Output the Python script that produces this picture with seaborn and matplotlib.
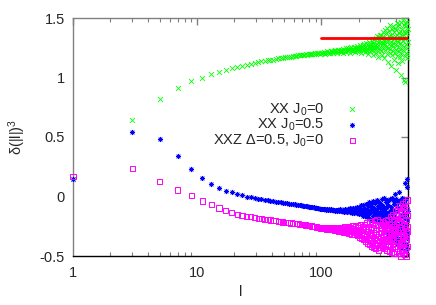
import numpy as np
import pandas as pd
import matplotlib
matplotlib.use("Agg")
import matplotlib.pyplot as plt
from matplotlib.markers import MarkerStyle
import seaborn as sns
from matplotlib.ticker import LogLocator, FixedLocator, NullFormatter

# ---- data ----
l_values = list(range(1, 500, 2))  # odd l = 1, 3, ..., 499

xx_j0 = [
    0.15, 0.64, 0.82, 0.91, 0.97, 1.00, 1.03, 1.05, 1.065, 1.08,
    1.09, 1.10, 1.105, 1.115, 1.12, 1.13, 1.135, 1.14, 1.145, 1.15,
    1.15, 1.155, 1.16, 1.16, 1.165, 1.17, 1.17, 1.175, 1.175, 1.18,
    1.18, 1.18, 1.185, 1.185, 1.19, 1.19, 1.19, 1.195, 1.19, 1.195,
    1.20, 1.195, 1.20, 1.20, 1.205, 1.20, 1.205, 1.21, 1.20, 1.205,
    1.21, 1.205, 1.215, 1.20, 1.21, 1.22, 1.21, 1.215, 1.205, 1.22,
    1.215, 1.225, 1.21, 1.22, 1.23, 1.215, 1.225, 1.21, 1.235, 1.22,
    1.225, 1.215, 1.235, 1.22, 1.24, 1.21, 1.23, 1.225, 1.245, 1.215,
    1.23, 1.25, 1.22, 1.235, 1.21, 1.245, 1.23, 1.255, 1.22, 1.24,
    1.225, 1.26, 1.23, 1.215, 1.25, 1.235, 1.265, 1.22, 1.245, 1.24,
    1.25, 1.22, 1.27, 1.235, 1.26, 1.21, 1.245, 1.275, 1.23, 1.255,
    1.24, 1.28, 1.215, 1.26, 1.235, 1.29, 1.25, 1.225, 1.27, 1.20,
    1.26, 1.30, 1.24, 1.27, 1.22, 1.285, 1.255, 1.31, 1.235, 1.27,
    1.19, 1.29, 1.26, 1.32, 1.23, 1.275, 1.25, 1.33, 1.21, 1.28,
    1.26, 1.35, 1.22, 1.30, 1.17, 1.34, 1.25, 1.29, 1.36, 1.24,
    1.30, 1.22, 1.36, 1.27, 1.33, 1.19, 1.29, 1.38, 1.25, 1.31,
    1.34, 1.16, 1.28, 1.40, 1.23, 1.32, 1.26, 1.37, 1.20, 1.30,
    1.42, 1.25, 1.31, 1.13, 1.35, 1.28, 1.39, 1.21, 1.33, 1.44,
    1.24, 1.30, 1.10, 1.36, 1.27, 1.41, 1.19, 1.34, 1.43, 1.22,
    1.29, 1.38, 1.15, 1.32, 1.25, 1.42, 1.21, 1.35, 1.06, 1.28,
    1.40, 1.23, 1.31, 1.46, 1.18, 1.36, 1.26, 1.43, 1.12, 1.30,
    1.37, 1.22, 1.34, 1.45, 1.17, 1.29, 1.39, 1.24, 1.02, 1.33,
    1.47, 1.20, 1.36, 1.27, 1.41, 1.14, 1.31, 1.48, 1.23, 1.35,
    0.98, 1.39, 1.26, 1.44, 1.18, 1.32, 1.46, 0.96, 1.37, 1.21,
    1.43, 1.28, 1.34, 1.16, 1.47, 1.25, 1.38, 1.20, 1.41, 1.30,
]

xx_j05 = [
    0.15, 0.545, 0.483, 0.341, 0.229, 0.157, 0.109, 0.073, 0.048, 0.034,
    0.02, 0.01, 0.0, -0.006, -0.012, -0.018, -0.022, -0.027, -0.031, -0.035,
    -0.04, -0.043, -0.046, -0.049, -0.052, -0.055, -0.057, -0.06, -0.062, -0.064,
    -0.067, -0.069, -0.071, -0.073, -0.075, -0.077, -0.079, -0.081, -0.083, -0.085,
    -0.087, -0.089, -0.091, -0.092, -0.094, -0.096, -0.098, -0.099, -0.101, -0.103,
    -0.104, -0.106, -0.108, -0.105, -0.11, -0.107, -0.112, -0.109, -0.113, -0.108,
    -0.115, -0.11, -0.117, -0.112, -0.118, -0.11, -0.12, -0.113, -0.116, -0.122,
    -0.109, -0.12, -0.114, -0.125, -0.11, -0.118, -0.127, -0.106, -0.121, -0.115,
    -0.13, -0.104, -0.124, -0.117, -0.133, -0.10, -0.126, -0.112, -0.136, -0.098,
    -0.128, -0.115, -0.14, -0.095, -0.122, -0.131, -0.09, -0.138, -0.11, -0.125,
    -0.085, -0.145, -0.118, -0.10, -0.15, -0.075, -0.13, -0.112, -0.16, -0.07,
    -0.135, -0.095, -0.168, -0.118, -0.06, -0.142, -0.105, -0.175, -0.08, -0.128,
    -0.15, -0.05, -0.185, -0.11, -0.135, -0.065, -0.195, -0.12, -0.09, -0.16,
    -0.04, -0.20, -0.13, -0.10, -0.17, -0.055, -0.21, -0.115, -0.145, -0.03,
    -0.19, -0.125, -0.08, -0.22, -0.10, -0.16, -0.045, -0.205, -0.135, -0.09,
    -0.23, -0.06, -0.175, -0.11, -0.25, -0.02, -0.15, -0.20, -0.08, -0.27,
    -0.12, -0.01, -0.215, -0.16, -0.29, -0.05, -0.185, -0.10, -0.24, -0.03,
    -0.14, -0.30, -0.07, -0.20, -0.17, -0.32, -0.03, -0.23, -0.12, -0.28,
    -0.02, -0.19, -0.34, -0.09, -0.25, -0.15, -0.01, -0.31, -0.21, -0.11,
    -0.36, -0.04, -0.26, -0.16, -0.06, -0.33, -0.22, 0.02, -0.38, -0.13,
    -0.28, -0.02, -0.19, -0.40, -0.08, -0.30, -0.05, -0.24, -0.35, -0.12,
    -0.42, -0.04, -0.27, 0.04, -0.20, -0.37, -0.10, -0.31, -0.03, -0.44,
    -0.16, -0.26, -0.06, -0.39, -0.01, -0.22, -0.33, -0.14, -0.41, -0.07,
    -0.29, -0.18, -0.05, -0.36, -0.09, -0.45, -0.24, 0.11, -0.32, -0.15,
    -0.40, -0.02, -0.27, 0.15, -0.35, -0.20, -0.43, 0.08, -0.30, -0.12,
]

xxz_d05 = [
    0.17, 0.232, 0.129, 0.054, 0.006, -0.037, -0.07, -0.097, -0.12, -0.137,
    -0.15, -0.158, -0.165, -0.171, -0.177, -0.182, -0.186, -0.19, -0.194, -0.198,
    -0.202, -0.205, -0.208, -0.211, -0.214, -0.216, -0.218, -0.22, -0.222, -0.224,
    -0.226, -0.228, -0.23, -0.232, -0.234, -0.236, -0.238, -0.24, -0.242, -0.244,
    -0.246, -0.248, -0.25, -0.252, -0.254, -0.256, -0.258, -0.26, -0.262, -0.265,
    -0.266, -0.27, -0.263, -0.272, -0.268, -0.275, -0.262, -0.278, -0.27, -0.265,
    -0.28, -0.272, -0.26, -0.284, -0.275, -0.268, -0.288, -0.262, -0.279, -0.292,
    -0.27, -0.258, -0.295, -0.281, -0.265, -0.30, -0.274, -0.255, -0.29, -0.305,
    -0.268, -0.285, -0.25, -0.31, -0.277, -0.295, -0.26, -0.315, -0.283, -0.248,
    -0.30, -0.27, -0.32, -0.288, -0.255, -0.31, -0.276, -0.33, -0.245, -0.295,
    -0.265, -0.34, -0.285, -0.24, -0.32, -0.30, -0.35, -0.255, -0.33, -0.28,
    -0.36, -0.235, -0.31, -0.375, -0.27, -0.34, -0.22, -0.39, -0.295, -0.35,
    -0.25, -0.40, -0.315, -0.21, -0.37, -0.28, -0.42, -0.33, -0.23, -0.385,
    -0.30, -0.43, -0.26, -0.355, -0.20, -0.41, -0.32, -0.44, -0.275, -0.37,
    -0.19, -0.40, -0.34, -0.245, -0.45, -0.31, -0.38, -0.21, -0.43, -0.29,
    -0.34, -0.24, -0.41, -0.30, -0.27, -0.43, -0.36, -0.22, -0.33, -0.39,
    -0.28, -0.44, -0.25, -0.37, -0.31, -0.42, -0.20, -0.38, -0.29, -0.45,
    -0.26, -0.35, -0.19, -0.41, -0.32, -0.23, -0.46, -0.28, -0.37, -0.17,
    -0.42, -0.30, -0.24, -0.47, -0.34, -0.21, -0.40, -0.27, -0.44, -0.15,
    -0.36, -0.25, -0.48, -0.31, -0.19, -0.42, -0.28, -0.12, -0.39, -0.33,
    -0.23, -0.46, -0.16, -0.37, -0.29, -0.44, -0.10, -0.34, -0.21, -0.48,
    -0.30, -0.14, -0.41, -0.26, -0.08, -0.45, -0.33, -0.18, -0.50, -0.28,
    -0.12, -0.39, -0.22, -0.43, -0.06, -0.35, -0.16, -0.47, -0.30, -0.20,
    -0.40, -0.09, -0.33, -0.49, -0.24, -0.13, -0.38, -0.27, -0.04, -0.44,
    -0.19, -0.31, -0.50, -0.11, -0.36, -0.25, -0.42, -0.03, -0.29, -0.16,
]

ref_x = [100, 500]
ref_y = [4.0 / 3.0, 4.0 / 3.0]

labels = ["XX J$_0$=0", "XX J$_0$=0.5", "XXZ \u0394=0.5, J$_0$=0"]
colors = ["#00ff00", "#0000ff", "#ff00ff"]
x_ticks = [1, 10, 100]
x_ticklabels = ["1", "10", "100"]
y_ticks = [-0.5, 0, 0.5, 1, 1.5]
y_ticklabels = ["-0.5", "0", "0.5", "1", "1.5"]

# ---- style ----
sns.set_theme(style="white")
plt.rcParams["font.family"] = ["Liberation Sans", "DejaVu Sans"]
plt.rcParams["mathtext.fontset"] = "custom"
plt.rcParams["mathtext.rm"] = "Liberation Sans"
plt.rcParams["mathtext.it"] = "Liberation Sans"
plt.rcParams["mathtext.bf"] = "Liberation Sans"
FS = 10.5

fig = plt.figure(figsize=(4.36, 3.05), dpi=100)
ax = fig.add_axes([73 / 436, 1 - 256 / 305, (408 - 73) / 436, (256 - 18) / 305])

df = pd.DataFrame({"l": l_values, "g": xx_j0, "b": xx_j05, "m": xxz_d05})
ref = pd.DataFrame({"x": ref_x, "y": ref_y})

sns.scatterplot(data=df, x="l", y="g", ax=ax, marker="x", color=colors[0],
                s=13, linewidth=0.6, label=labels[0], zorder=3, clip_on=False)
sns.scatterplot(data=df, x="l", y="b", ax=ax, marker=(8, 2, 0), color=colors[1],
                s=10, linewidth=0.6, label=labels[1], zorder=3, clip_on=False)
sns.scatterplot(data=df, x="l", y="m", ax=ax,
                marker=MarkerStyle("s", fillstyle="none"), color=colors[2],
                s=14, linewidth=0.7, label=labels[2], zorder=3, clip_on=False)
sns.lineplot(data=ref, x="x", y="y", ax=ax, color="#ff0000", linewidth=2.0,
             zorder=4, legend=False)

ax.set_xscale("log")
ax.set_xlim(1, 500)
ax.set_ylim(-0.5, 1.5)
ax.xaxis.set_major_locator(FixedLocator(x_ticks))
ax.set_xticklabels(x_ticklabels)
ax.xaxis.set_minor_locator(LogLocator(base=10, subs=np.arange(2, 10)))
ax.xaxis.set_minor_formatter(NullFormatter())
ax.set_yticks(y_ticks)
ax.set_yticklabels(y_ticklabels)

ax.tick_params(axis="both", which="major", direction="in", length=5, width=1,
               labelsize=FS, top=True, right=True, color="#808080", pad=6)
ax.tick_params(axis="x", which="minor", direction="in", length=3, width=0.8,
               top=True, bottom=True, color="#808080")
ax.tick_params(axis="x", which="major", pad=7)

for side in ["left", "top"]:
    ax.spines[side].set_color("#808080")
for side in ["right", "bottom"]:
    ax.spines[side].set_color("black")
for sp in ax.spines.values():
    sp.set_linewidth(1.0)
    sp.set_visible(True)

ax.set_xlabel("l", fontsize=FS, labelpad=4)
ax.set_ylabel("\u03b4(|l|)$^3$", fontsize=FS, labelpad=8)

leg = ax.legend(loc="center right", bbox_to_anchor=(0.855, 0.55), frameon=False,
                markerfirst=False, fontsize=FS, handlelength=1.0,
                handletextpad=1.4, labelspacing=-0.05, borderpad=0,
                borderaxespad=0)

fig.savefig("out.png", dpi=100)
